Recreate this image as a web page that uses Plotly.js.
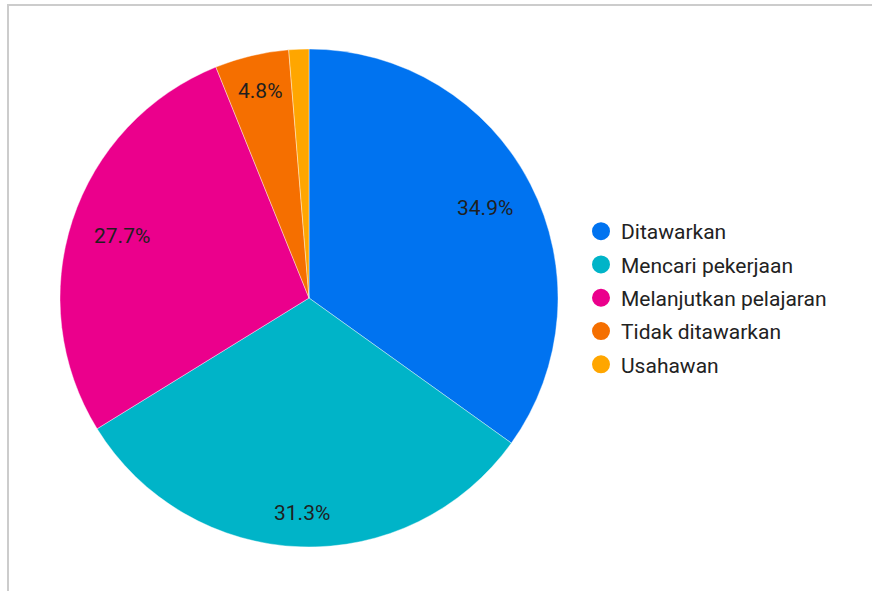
<!DOCTYPE html>
<html>
<head>
<meta charset="utf-8">
<script src="https://cdn.plot.ly/plotly-3.0.1.min.js"></script>
<style>
  html, body { margin: 0; padding: 0; background: #fff; }
  #frame { position: absolute; left: 7px; top: 4px; width: 865px; height: 587px;
           border-left: 2px solid #cccccc; border-top: 2px solid #cccccc; pointer-events: none; }
  #chart { position: absolute; left: 0; top: 0; width: 872px; height: 591px; }
</style>
</head>
<body>
<div id="chart"></div>
<div id="frame"></div>
<script>
const categories = ["Ditawarkan", "Mencari pekerjaan", "Melanjutkan pelajaran", "Tidak ditawarkan", "Usahawan"];
const values = [34.9, 31.3, 27.7, 4.8, 1.3];
const colors = ["#0073f0", "#00b4c8", "#eb008c", "#f56f00", "#ffa600"];
const minLabelPct = 0.02;

const W = 872, H = 591;
const FONT = "Roboto, Arial, sans-serif";
const labelSize = 21;
const total = values.reduce((a, b) => a + b, 0);

// pie geometry (domain in paper fractions)
const dom = { x: [60 / W, 558 / W], y: [1 - 547 / H, 1 - 49 / H] };
const cxPx = (dom.x[0] + dom.x[1]) / 2 * W;
const cyPx = (1 - (dom.y[0] + dom.y[1]) / 2) * H;
const R = Math.min((dom.x[1] - dom.x[0]) * W, (dom.y[1] - dom.y[0]) * H) / 2;

const pie = {
  type: "pie",
  labels: categories,
  values: values,
  sort: false,
  direction: "clockwise",
  rotation: 0,
  marker: { colors: colors, line: { color: "#ffffff", width: 0.4 } },
  textinfo: "none",
  hoverinfo: "label+percent",
  showlegend: false,
  domain: dom
};

// slice labels placed Google-Charts style: outer corner of text box at ~0.91 R
const ctx = document.createElement("canvas").getContext("2d");
ctx.font = labelSize + "px Roboto";
const annotations = [];
let cum = 0;
values.forEach((v, i) => {
  const frac = v / total;
  const mid = (cum + frac / 2) * 2 * Math.PI;
  cum += frac;
  if (frac < minLabelPct) return;
  const txt = (frac * 100).toFixed(1) + "%";
  const w = ctx.measureText(txt).width / 2;
  const h = labelSize * 0.4;
  const s = Math.sin(mid), c = Math.cos(mid);
  const a = Math.abs(s), b = Math.abs(c);
  const T = 0.91 * R;
  const k = a * w + b * h;
  const d = -k + Math.sqrt(k * k - (w * w + h * h - T * T));
  annotations.push({
    xref: "paper", yref: "paper",
    x: (cxPx + d * s) / W, y: 1 - (cyPx - d * c) / H,
    xanchor: "center", yanchor: "middle",
    text: txt, showarrow: false,
    font: { family: FONT, size: labelSize, color: "#1f1f1f" }
  });
});

const legendTraces = categories.map((c, i) => ({
  type: "scatter",
  mode: "markers",
  x: [null], y: [null],
  name: c,
  legendgroup: c,
  marker: { symbol: "circle", size: 16, color: colors[i], line: { color: colors[i], width: 2 } },
  showlegend: true,
  hoverinfo: "skip"
}));

const layout = {
  width: W, height: H,
  margin: { l: 0, r: 0, t: 0, b: 0 },
  paper_bgcolor: "rgba(0,0,0,0)",
  plot_bgcolor: "rgba(0,0,0,0)",
  xaxis: { visible: false },
  yaxis: { visible: false },
  showlegend: true,
  annotations: annotations,
  legend: {
    x: 581 / W, xanchor: "left",
    y: 1 - 298 / H, yanchor: "middle",
    font: { family: FONT, size: 21, color: "#222222" },
    tracegroupgap: 3,
    bgcolor: "rgba(0,0,0,0)",
    itemclick: false, itemdoubleclick: false
  }
};

Plotly.newPlot("chart", [pie].concat(legendTraces), layout, { displayModeBar: false, staticPlot: true });
</script>
</body>
</html>
